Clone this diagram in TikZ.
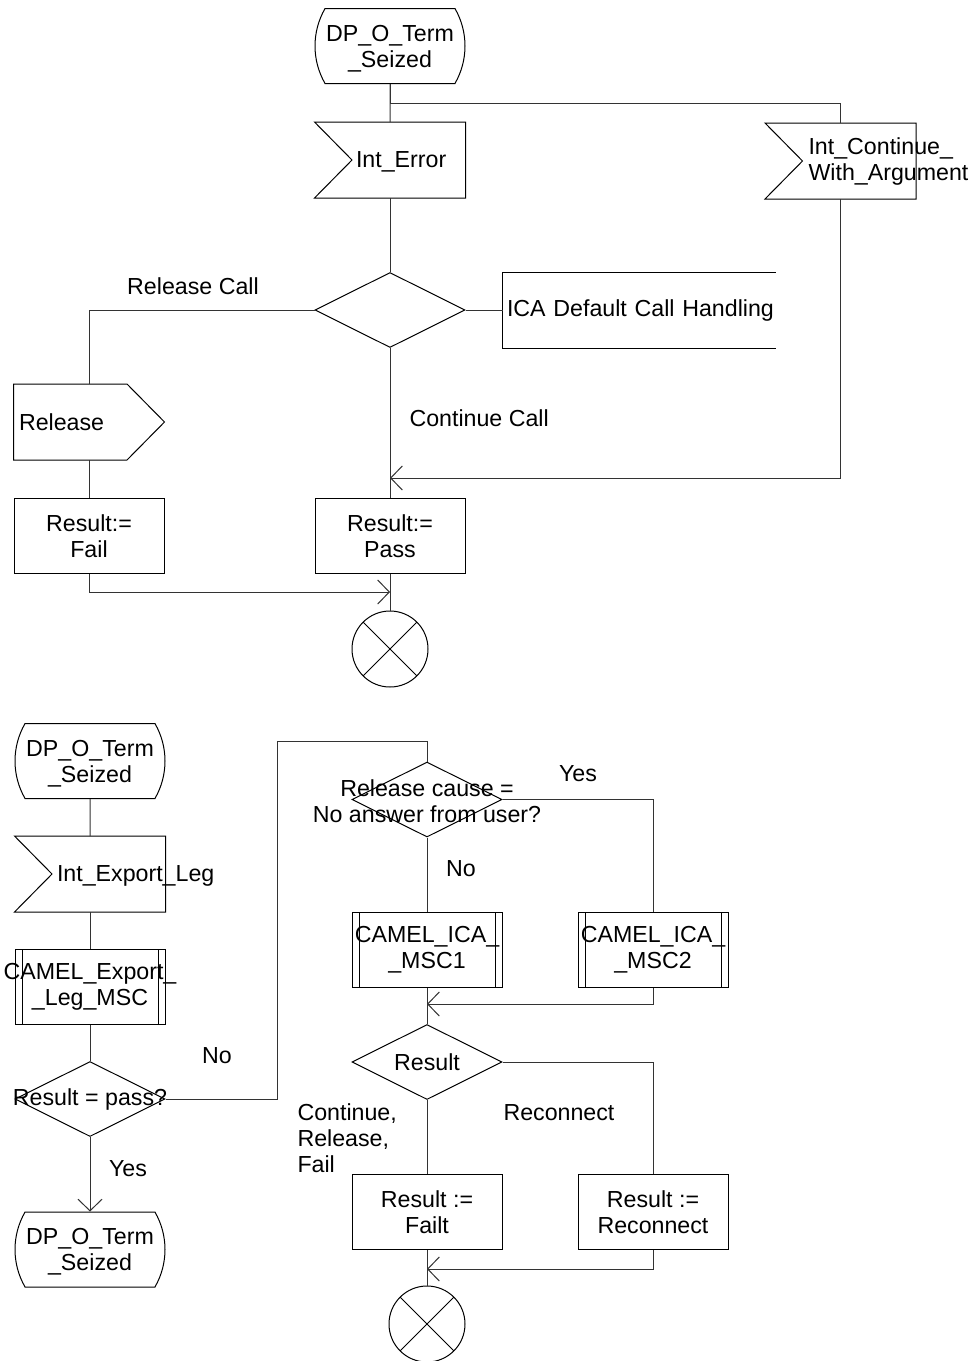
\documentclass[tikz,border=0pt]{standalone}
\usepackage{fontspec}
\setmainfont{Liberation Sans}
\usetikzlibrary{shapes.geometric,shapes.misc,arrows.meta}

% outlines of the signal symbols
\newcommand{\insigline}[1]{\draw (#1.north west) -- (#1.north east) -- (#1.south east) -- (#1.south west) -- ([xshift=18.75pt]#1.west) -- cycle;}
\newcommand{\outsigline}[1]{\draw (#1.north west) -- ([xshift=-18.75pt]#1.north east) -- (#1.east) -- ([xshift=-18.75pt]#1.south east) -- (#1.south west) -- cycle;}
\newcommand{\wline}[1]{\makebox[75pt][c]{#1}}

\begin{document}
\begin{tikzpicture}[
  x=0.5pt, y=-0.5pt,
  line width=0.5pt,
  every node/.style={font=\fontsize{11.6}{13}\selectfont},
  >={Straight Barb[length=5.8pt,width=12pt]},
  conn/.style={draw=black!80},
  box/.style={rectangle, draw, minimum width=75pt, minimum height=37.5pt, inner sep=0pt, align=center},
  termbox/.style={rounded rectangle, rounded rectangle arc length=60, draw, minimum width=75pt, minimum height=37.5pt, inner sep=0pt, align=center, text depth=0pt},
  sigbox/.style={rectangle, minimum width=75pt, minimum height=37.5pt, inner xsep=#1, inner ysep=0pt, text width=75pt-2*#1, align=left},
  oneline/.style={text depth=0pt},
  procbox/.style={box, text width=75pt, path picture={
      \draw ([xshift=3.5pt]path picture bounding box.north west) -- ([xshift=3.5pt]path picture bounding box.south west);
      \draw ([xshift=-3.5pt]path picture bounding box.north east) -- ([xshift=-3.5pt]path picture bounding box.south east);}},
  decision/.style={diamond, draw, minimum width=75pt, minimum height=37.5pt, inner sep=0pt},
  stopc/.style={circle, draw, minimum size=38pt, inner sep=0pt, path picture={
      \draw (path picture bounding box.north west) -- (path picture bounding box.south east)
            (path picture bounding box.north east) -- (path picture bounding box.south west);}},
]
\useasboundingbox (0,0) rectangle (973,1361);

% ---- upper diagram ----
\node[termbox] (tstart) at (390,46) {DP\_O\_Term\\\_Seized};
\node[sigbox=20.5pt, oneline] (interr) at (390,160) {Int\_Error};
\insigline{interr}
\node[sigbox=21.5pt] (intcont) at (840.5,161) {Int\_Continue\_\\With\_Argument};
\insigline{intcont}
\node[decision] (tdec) at (390,310) {};
\node[rectangle, minimum width=136pt, minimum height=37.5pt, inner xsep=2pt, text width=132pt, align=left] (ica) at (639,310) {\mbox{ICA Default Call Handling}};
\draw (ica.north east) -- (ica.north west) -- (ica.south west) -- (ica.south east);
\node[sigbox=2.5pt, oneline] (release) at (89,422) {Release};
\outsigline{release}
\node[box] (rfail) at (89,536) {Result:=\\Fail};
\node[box] (rpass) at (390,536) {Result:=\\Pass};
\node[stopc] (tstop) at (390,649) {};

\node (lblrelcall) at (193,286) {Release Call};
\node[anchor=west, inner sep=0pt] (lblcontcall) at (409,418) {Continue Call};

\draw[conn] (tstart) -- (interr);
\draw[conn] (tstart.south) -- ++(0,19) -| (intcont.north);
\draw[conn] (interr) -- (tdec);
\draw[conn] (tdec.west) -| (release.north);
\draw[conn] (tdec.east) -- (ica.west);
\draw[conn] (tdec.south) -- (rpass.north);
\draw[conn,->] (intcont.south) |- ([yshift=10pt]rpass.north);
\draw[conn] (release) -- (rfail);
\draw[conn,->] (rfail.south) |- ([yshift=-9pt]rpass.south);
\draw[conn] (rpass) -- (tstop);

% ---- lower diagram ----
\node[termbox] (bstart) at (90,761) {DP\_O\_Term\\\_Seized};
\node[sigbox=21pt, oneline] (expleg) at (90,874) {Int\_Export\_Leg};
\insigline{expleg}
\node[procbox] (expmsc) at (90,987) {\wline{CAMEL\_Export\_}\\\wline{\_Leg\_MSC}};
\node[decision, label={center:Result = pass?}] (passq) at (90,1099) {};
\node[termbox] (bend) at (90,1249.5) {DP\_O\_Term\\\_Seized};

\node[decision, label={[align=center, yshift=-1pt]center:Release cause =\\No answer from user?}] (relq) at (427,799.5) {};
\node[procbox] (msc1) at (427,950) {\wline{CAMEL\_ICA\_}\\\wline{\_MSC1}};
\node[procbox] (msc2) at (653,950) {\wline{CAMEL\_ICA\_}\\\wline{\_MSC2}};
\node[decision, label={center:Result}] (resq) at (427,1062) {};
\node[box] (rfailt) at (427,1212) {Result :=\\Failt};
\node[box] (rrecon) at (653,1212) {Result :=\\Reconnect};
\node[stopc] (bstop) at (427,1324) {};

\node (lblno1) at (217,1056) {No};
\node (lblyes1) at (128,1169) {Yes};
\node (lblyes2) at (578,774) {Yes};
\node (lblno2) at (461,869) {No};
\node[anchor=west, align=left, inner sep=0pt] (lblcont) at (297,1138) {Continue,\\Release,\\Fail};
\node (lblrecon) at (559,1113) {Reconnect};

\draw[conn] (bstart) -- (expleg);
\draw[conn] (expleg) -- (expmsc);
\draw[conn] (expmsc) -- (passq);
\draw[conn,->] (passq.south) -- (bend.north);
\draw[conn] (passq.east) -- ++(112,0) |- ([yshift=10pt]relq.north) -- (relq.north);
\draw[conn] (relq.east) -| (msc2.north);
\draw[conn] (relq.south) -- (msc1.north);
\draw[conn] (msc1) -- (resq);
\draw[conn,->] (msc2.south) |- ([yshift=10pt]resq.north);
\draw[conn] (resq.east) -| (rrecon.north);
\draw[conn] (resq.south) -- (rfailt.north);
\draw[conn,->] (rrecon.south) |- ([yshift=-9.5pt]rfailt.south);
\draw[conn] (rfailt) -- (bstop);
\end{tikzpicture}
\end{document}
